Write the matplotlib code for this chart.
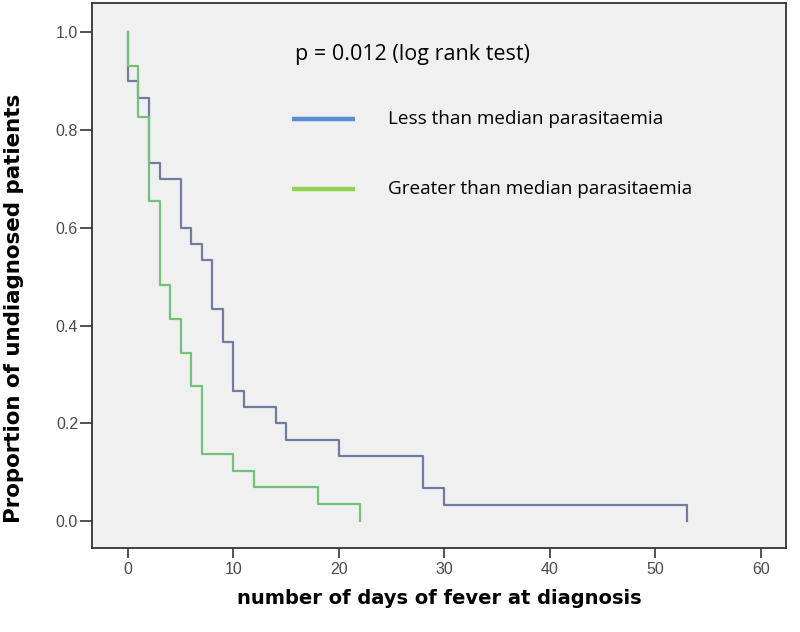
import matplotlib.pyplot as plt
import numpy as np

# Kaplan-Meier steps (days, proportion still undiagnosed)
less_days = [0, 0, 1, 2, 3, 5, 6, 7, 8, 9, 10, 11, 14, 15, 20, 28, 30, 53]
less_surv = [1.0, 27/30, 26/30, 22/30, 21/30, 18/30, 17/30, 16/30, 13/30, 11/30,
             8/30, 7/30, 6/30, 5/30, 4/30, 2/30, 1/30, 0.0]

greater_days = [0, 0, 1, 2, 3, 4, 5, 6, 7, 10, 12, 18, 22]
greater_surv = [1.0, 27/29, 24/29, 19/29, 14/29, 12/29, 10/29, 8/29, 4/29,
                3/29, 2/29, 1/29, 0.0]

xticks = [0, 10, 20, 30, 40, 50, 60]
yticks = [0.0, 0.2, 0.4, 0.6, 0.8, 1.0]

legend_labels = ['Less than median parasitaemia', 'Greater than median parasitaemia']
p_text = 'p = 0.012 (log rank test)'

fig = plt.figure(figsize=(8, 6.32), dpi=100)
ax = fig.add_axes([0.115, 0.133, 0.8675, 0.862])
ax.set_facecolor('#f0f0f0')

ax.step(less_days, less_surv, where='post', color='#717ca2', lw=1.6)
ax.step(greater_days, greater_surv, where='post', color='#72c27a', lw=1.6)

ax.set_xlim(-3.4, 62.4)
ax.set_ylim(-0.055, 1.06)
ax.set_xticks(xticks)
ax.set_yticks(yticks)
ax.set_yticklabels(['%.1f' % v for v in yticks])
ax.tick_params(direction='out', width=1.2, color='#333333',
               labelcolor='#4a4a4a', labelsize=11.5)
ax.tick_params(axis='y', length=9, pad=1)
ax.tick_params(axis='x', length=7, pad=3)
for lab in ax.get_xticklabels() + ax.get_yticklabels():
    lab.set_family('Liberation Sans')
for s in ax.spines.values():
    s.set_color('#333333')
    s.set_linewidth(1.3)

ax.set_xlabel('number of days of fever at diagnosis', fontsize=14,
              fontweight='bold', labelpad=9)
ax.set_ylabel('Proportion of undiagnosed patients', fontsize=15.4,
              fontweight='bold')
ax.yaxis.set_label_coords(-0.098, 0.44)

# legend drawn as in the original (lines + text placed inside the axes)
ax.text(0.2925, 0.905, p_text, transform=ax.transAxes, fontsize=15.5,
        family='Open Sans', va='center')
ax.plot([0.288, 0.379], [0.787, 0.787], transform=ax.transAxes,
        color='#5b8bd0', lw=3.2, solid_capstyle='butt')
ax.plot([0.288, 0.379], [0.659, 0.659], transform=ax.transAxes,
        color='#92d050', lw=3.2, solid_capstyle='butt')
ax.text(0.4265, 0.787, legend_labels[0], transform=ax.transAxes,
        fontsize=13.6, family='Open Sans', va='center')
ax.text(0.4265, 0.659, legend_labels[1], transform=ax.transAxes,
        fontsize=13.6, family='Open Sans', va='center')

fig.savefig('out.png', dpi=100)
